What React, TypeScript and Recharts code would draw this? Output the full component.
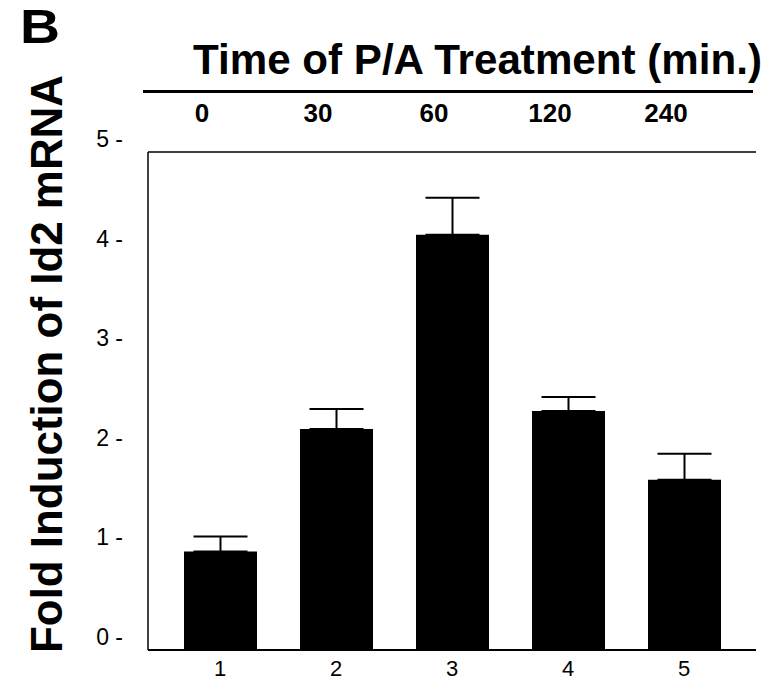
import { BarChart, Bar, XAxis, YAxis, ErrorBar } from "recharts";

const lanes = ["1", "2", "3", "4", "5"];
const times = ["0", "30", "60", "120", "240"];
const foldInduction = [0.99, 2.22, 4.17, 2.4, 1.71];
const errorUp = [0.15, 0.2, 0.37, 0.14, 0.26];
const yTicks = [0, 1, 2, 3, 4, 5];

const data = lanes.map((lane, i) => ({
  lane,
  time: times[i],
  value: foldInduction[i],
  err: [0, errorUp[i]],
}));

const font = "'Liberation Sans', Arial, sans-serif";

function YTick({ x, y, payload }: any) {
  return (
    <text x={x} y={y} dy={-5} textAnchor="end" fontSize={23} fontFamily={font} fill="#000">
      {payload.value} -
    </text>
  );
}

function BottomTick({ x, y, payload }: any) {
  return (
    <text x={x} y={y} dy={26} textAnchor="middle" fontSize={22} fontFamily={font} fill="#000">
      {payload.value}
    </text>
  );
}

function TopTick({ x, y, payload }: any) {
  return (
    <text x={x} y={y} dx={-18} dy={-30} textAnchor="middle" fontSize={26} fontWeight="bold" fontFamily={font} fill="#000">
      {payload.value}
    </text>
  );
}

export default function App() {
  return (
    <div style={{ position: "absolute", left: 0, top: 0, width: 783, height: 682, background: "#fff" }}>
      <BarChart width={783} height={682} data={data} margin={{ top: 0, right: 27, bottom: 0, left: 88 }}>
        <XAxis
          xAxisId="bottom"
          dataKey="lane"
          height={32}
          padding={{ left: 14, right: 14 }}
          tickSize={0}
          tickMargin={0}
          tickLine={false}
          axisLine={{ stroke: "#000", strokeWidth: 2 }}
          tick={<BottomTick />}
        />
        <XAxis
          xAxisId="top"
          orientation="top"
          dataKey="time"
          height={152}
          padding={{ left: 14, right: 14 }}
          tickSize={0}
          tickMargin={0}
          tickLine={false}
          axisLine={{ stroke: "#000", strokeWidth: 1.5 }}
          tick={<TopTick />}
        />
        <YAxis
          yAxisId="left"
          domain={[0, 5]}
          ticks={yTicks}
          width={60}
          tickSize={0}
          tickMargin={25}
          tickLine={false}
          axisLine={{ stroke: "#000", strokeWidth: 1.5 }}
          tick={<YTick />}
        />
        <YAxis
          yAxisId="right"
          orientation="right"
          domain={[0, 5]}
          width={0}
          tick={false}
          tickLine={false}
          axisLine={{ stroke: "#000", strokeWidth: 1.5 }}
        />
        <Bar dataKey="value" xAxisId="bottom" yAxisId="left" fill="#000" barSize={73} isAnimationActive={false}>
          <ErrorBar dataKey="err" direction="y" width={27} stroke="#000" strokeWidth={2} isAnimationActive={false} />
        </Bar>
      </BarChart>
      <svg
        width={783}
        height={682}
        style={{ position: "absolute", left: 0, top: 0, pointerEvents: "none" }}
      >
        <text x={20} y={43} fontSize={48} fontWeight="bold" fontFamily={font} fill="#000" textLength={40} lengthAdjust="spacingAndGlyphs">
          B
        </text>
        <text x={193} y={74} fontSize={42} fontWeight="bold" fontFamily={font} fill="#000" textLength={569} lengthAdjust="spacingAndGlyphs">
          Time of P/A Treatment (min.)
        </text>
        <line x1={143} x2={753} y1={91.5} y2={91.5} stroke="#000" strokeWidth={3} />
        <text
          transform="translate(62,364) rotate(-90)"
          textAnchor="middle"
          fontSize={44}
          fontWeight="bold"
          fontFamily={font}
          fill="#000"
          textLength={578}
          lengthAdjust="spacingAndGlyphs"
        >
          Fold Induction of Id2 mRNA
        </text>
      </svg>
    </div>
  );
}
